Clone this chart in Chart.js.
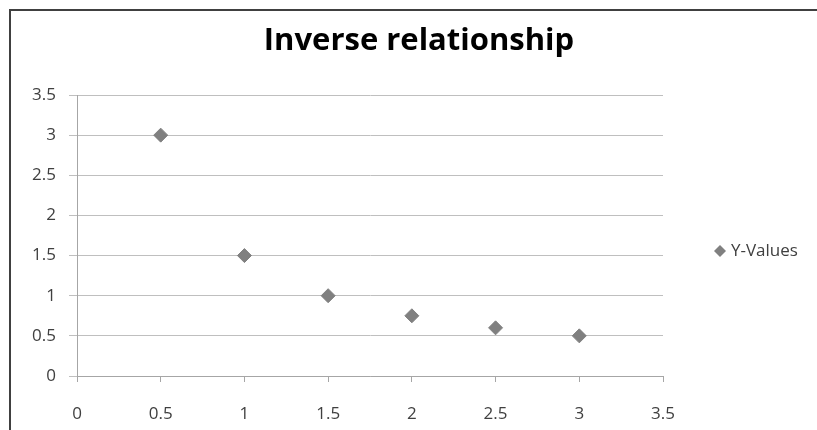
<!DOCTYPE html>
<html>
<head>
<meta charset="utf-8">
<script src="https://cdn.jsdelivr.net/npm/chart.js@4"></script>
<style>
  html, body { margin: 0; padding: 0; background: #fff; }
  #wrap { position: relative; width: 817px; height: 430px; overflow: hidden; }
  #frame { position: absolute; left: 9px; top: 9px; width: 830px; height: 450px;
           border: 2px solid #404040; box-sizing: border-box; pointer-events: none; }
  canvas { position: absolute; left: 0; top: 0; }
</style>
</head>
<body>
<div id="wrap">
  <canvas id="c" width="817" height="430"></canvas>
  <div id="frame"></div>
</div>
<script>
const chartTitle = "Inverse relationship";
const seriesName = "Y-Values";
const xValues = [0.5, 1, 1.5, 2, 2.5, 3];
const yValues = [3, 1.5, 1, 0.75, 0.6, 0.5];
const axisMin = 0;
const axisMax = 3.5;
const axisStep = 0.5;

const FONT = "'Open Sans', 'Liberation Sans', sans-serif";
const MARK = "#808080";
const TEXT = "#404040";

const points = xValues.map((x, i) => ({ x: x, y: yValues[i] }));
const plainNumber = (v) => String(Math.round(v * 100) / 100);

// Title and legend drawn onto the canvas beside the plot area
const decorations = {
  id: "decorations",
  afterDraw(chart) {
    const ctx = chart.ctx;
    ctx.save();
    ctx.fillStyle = "#000";
    ctx.font = "bold 31px " + FONT;
    ctx.textAlign = "center";
    ctx.textBaseline = "middle";
    ctx.fillText(chartTitle, 419, 41);

    // legend entry
    const lx = 720, ly = 251, r = 6;
    ctx.fillStyle = MARK;
    ctx.beginPath();
    ctx.moveTo(lx, ly - r);
    ctx.lineTo(lx + r, ly);
    ctx.lineTo(lx, ly + r);
    ctx.lineTo(lx - r, ly);
    ctx.closePath();
    ctx.fill();
    ctx.fillStyle = TEXT;
    ctx.font = "17px " + FONT;
    ctx.textAlign = "left";
    ctx.fillText(seriesName, 731, 251);
    ctx.restore();
  }
};

new Chart(document.getElementById("c"), {
  type: "scatter",
  data: {
    datasets: [{
      label: seriesName,
      data: points,
      pointStyle: "rectRot",
      pointRadius: 7,
      pointHoverRadius: 7,
      backgroundColor: MARK,
      borderColor: MARK,
      borderWidth: 1
    }]
  },
  options: {
    responsive: false,
    animation: false,
    events: [],
    layout: { padding: { top: 95, right: 154, bottom: 0, left: 20 } },
    plugins: {
      legend: { display: false },
      title: { display: false },
      tooltip: { enabled: false }
    },
    scales: {
      x: {
        type: "linear",
        min: axisMin, max: axisMax,
        ticks: {
          stepSize: axisStep,
          color: TEXT,
          font: { family: FONT, size: 17 },
          padding: 22,
          callback: plainNumber
        },
        grid: {
          display: true,
          drawOnChartArea: false,
          drawTicks: true,
          tickLength: 6,
          color: "#a6a6a6"
        },
        border: { display: true, color: "#a6a6a6", width: 1 },
        afterFit(scale) { scale.height = 54; }
      },
      y: {
        type: "linear",
        min: axisMin, max: axisMax,
        ticks: {
          stepSize: axisStep,
          color: TEXT,
          font: { family: FONT, size: 17 },
          padding: 13,
          callback: plainNumber
        },
        grid: {
          display: true,
          drawOnChartArea: true,
          drawTicks: true,
          tickLength: 8,
          color: "#bfbfbf"
        },
        border: { display: true, color: "#a6a6a6", width: 1 },
        afterFit(scale) { scale.width = 57; }
      }
    }
  },
  plugins: [decorations]
});
</script>
</body>
</html>
